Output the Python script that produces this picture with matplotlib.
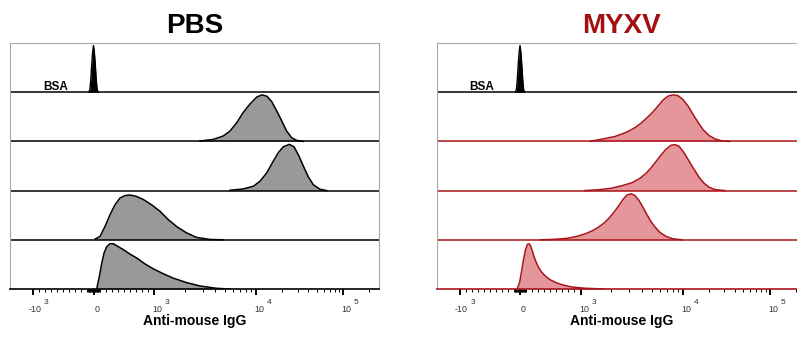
import numpy as np
import matplotlib
matplotlib.use("Agg")
import matplotlib.pyplot as plt
from matplotlib.ticker import FixedLocator, NullFormatter

plt.rcParams["font.family"] = ["Liberation Sans", "DejaVu Sans"]

# ── Data: x = Anti-mouse IgG fluorescence, y = fraction of mode ─────
bsa_x = [-80, -60, -45, -30, -15, 0, 15, 30, 45, 60, 80]
bsa_y = [0, 0.05, 0.25, 0.55, 0.80, 0.95, 0.80, 0.55, 0.25, 0.05, 0]

pbs_1_x = [2825, 3811, 4775, 5559, 6474, 7503, 8730, 10190, 11640, 13280, 15150,
           17300, 19730, 22500, 25700, 29380, 34990]
pbs_1_y = [0.007, 0.041, 0.11, 0.21, 0.38, 0.59, 0.76, 0.90, 0.945, 0.92, 0.81,
           0.62, 0.42, 0.21, 0.075, 0.02, 0]

pbs_2_x = [5559, 7503, 9420, 11120, 13280, 15820, 18040, 20600, 24150, 27360, 30650,
           34990, 39910, 45600, 54450, 65020]
pbs_2_y = [0.007, 0.034, 0.088, 0.19, 0.36, 0.60, 0.77, 0.89, 0.94, 0.89, 0.73,
           0.50, 0.28, 0.12, 0.027, 0]

pbs_3_x = [25, 107, 190, 273, 355, 438, 521, 603, 714, 823, 962, 1145, 1381, 1667,
           2089, 2616, 3540, 4775]
pbs_3_y = [0.014, 0.068, 0.27, 0.51, 0.71, 0.85, 0.90, 0.91, 0.88, 0.82, 0.71, 0.58,
           0.41, 0.27, 0.14, 0.048, 0.007, 0]

pbs_4_x = [53, 96, 136, 174, 218, 273, 327, 383, 493, 603, 714, 851, 988, 1233, 1545,
           2089, 2825, 4122, 5559]
pbs_4_y = [0, 0.25, 0.52, 0.73, 0.86, 0.92, 0.92, 0.88, 0.80, 0.71, 0.63, 0.51, 0.41,
           0.31, 0.22, 0.13, 0.061, 0.014, 0]

myxv_1_x = [1239, 1662, 2179, 2858, 3422, 3917, 4487, 5138, 5754, 6443, 7210, 8072,
            9036, 10130, 11570, 13210, 15070, 17220, 20180, 23660, 28460, 35160]
myxv_1_y = [0, 0.05, 0.10, 0.19, 0.28, 0.37, 0.48, 0.60, 0.72, 0.84, 0.92, 0.945,
            0.93, 0.85, 0.72, 0.55, 0.39, 0.24, 0.12, 0.05, 0.01, 0]

myxv_2_x = [1107, 1553, 2036, 2551, 3199, 3828, 4385, 4909, 5496, 6152, 6886, 7709,
            8433, 9247, 10130, 11270, 12540, 13940, 15500, 17680, 20180, 23660, 30820]
myxv_2_y = [0, 0.02, 0.05, 0.10, 0.16, 0.25, 0.35, 0.46, 0.59, 0.72, 0.84, 0.92,
            0.935, 0.90, 0.80, 0.67, 0.53, 0.40, 0.27, 0.15, 0.07, 0.02, 0]

myxv_3_x = [331, 579, 777, 942, 1107, 1296, 1485, 1700, 1903, 2130, 2384, 2610, 2858,
            3129, 3422, 3748, 4100, 4487, 4909, 5375, 6012, 6886, 8072, 9886]
myxv_3_y = [0, 0.01, 0.03, 0.07, 0.12, 0.18, 0.25, 0.34, 0.44, 0.56, 0.70, 0.82, 0.91,
            0.935, 0.90, 0.80, 0.66, 0.51, 0.37, 0.26, 0.15, 0.07, 0.02, 0]

myxv_4_x = [-50, -8, 25, 58, 91, 124, 149, 174, 207, 248, 298, 347, 413, 496, 595, 711,
            860, 1107, 1742]
myxv_4_y = [0, 0.12, 0.35, 0.60, 0.80, 0.91, 0.92, 0.88, 0.76, 0.60, 0.46, 0.36, 0.27,
            0.19, 0.13, 0.08, 0.04, 0.015, 0]

major_ticks = [-1000, 0, 1000, 10000, 100000]
major_base = ["-10", "0", "10", "10", "10"]
major_exp = ["3", "", "3", "4", "5"]

# ── Palette ──────────────────────────────────────────────────────────
BLACK = "#000000"
GREY_FILL = "#999999"
FRAME = "#a8a8a8"
RED = "#a8141a"
RED_FILL = "#e4969a"
RED_TITLE = "#a50f0f"
TICK_TXT = "#333333"

W, H, DPI = 797, 343, 100

# ── biexponential-like display scale (pixel anchors) ──
U_ANCH = [-3, -1, 0, 1, 2, 3, 4]
P_ANCH = [-88, 33, 93.5, 154, 256, 343, 430]


def to_u(v):
    v = np.asarray(v, dtype=float)
    a = np.abs(v)
    return np.where(a <= 1000, v / 1000,
                    np.sign(v) * (1 + np.log10(np.maximum(a, 1e-9) / 1000)))


def from_u(u):
    u = np.asarray(u, dtype=float)
    return np.where(np.abs(u) <= 1, u * 1000,
                    np.sign(u) * 1000 * 10 ** (np.abs(u) - 1))


def forward(v):
    return np.interp(to_u(v), U_ANCH, P_ANCH)


def inverse(p):
    return from_u(np.interp(p, P_ANCH, U_ANCH))


XMIN, XMAX = -2400, 262144
minor_ticks = ([-k * 100 for k in range(1, 10)] + [-k * 10 for k in range(1, 10)]
               + [k * 10 for k in range(1, 10)] + [k * 100 for k in range(1, 10)]
               + [k * 1000 for k in range(2, 10)] + [k * 10000 for k in range(2, 10)]
               + [200000])


def panel(fig, left_px, title, title_color, rows, line, fill):
    span = float(forward(XMAX) - forward(XMIN))
    ax = fig.add_axes([left_px / W, 54 / H, span / W, 246 / H])
    ax.set_xscale("function", functions=(forward, inverse))
    ax.set_xlim(XMIN, XMAX)
    ax.set_ylim(0, 5)

    # BSA control in top row
    base = 4
    ax.fill_between(bsa_x, base, base + np.array(bsa_y), color=BLACK, lw=0)
    ax.plot(bsa_x, base + np.array(bsa_y), color=BLACK, lw=1.0)
    ax.axhline(base, color=BLACK, lw=1.1)
    ax.text(0.09, 0.809, "BSA", transform=ax.transAxes, fontsize=8.5,
            fontweight="bold", ha="left", va="baseline")

    for i, (xs, ys) in enumerate(rows):
        base = 3 - i
        ys = base + np.array(ys)
        ax.fill_between(xs, base, ys, color=fill, lw=0)
        ax.plot(xs, ys, color=line, lw=1.1, solid_joinstyle="round")
        if base > 0:
            ax.axhline(base, color=line, lw=1.1)

    for s in ("top", "left", "right"):
        ax.spines[s].set_color(FRAME)
        ax.spines[s].set_linewidth(0.8)
    ax.spines["bottom"].set_color(line)
    ax.spines["bottom"].set_linewidth(1.2)

    ax.set_yticks([])
    ax.xaxis.set_major_locator(FixedLocator(major_ticks))
    ax.xaxis.set_minor_locator(FixedLocator(minor_ticks))
    ax.xaxis.set_major_formatter(NullFormatter())
    ax.xaxis.set_minor_formatter(NullFormatter())
    ax.tick_params(axis="x", which="major", direction="out", length=4.3,
                   width=1.4, color=BLACK)
    ax.tick_params(axis="x", which="minor", direction="out", length=2.5,
                   width=0.7, color=BLACK)

    # tick labels drawn as base + raised exponent
    tr = ax.get_xaxis_transform()
    for v, b, e in zip(major_ticks, major_base, major_exp):
        if e:
            ax.annotate(b, xy=(v, 0), xycoords=tr, xytext=(6.0, -16.8),
                        textcoords="offset points", ha="right", va="baseline",
                        fontsize=6.4, color=TICK_TXT)
            ax.annotate(e, xy=(v, 0), xycoords=tr, xytext=(8.0, -10.6),
                        textcoords="offset points", ha="left", va="baseline",
                        fontsize=6.0, color=TICK_TXT)
        else:
            ax.annotate(b, xy=(v, 0), xycoords=tr, xytext=(2.6, -16.8),
                        textcoords="offset points", ha="center", va="baseline",
                        fontsize=6.4, color=TICK_TXT)

    ax.text(0.5, -(325 - 289) / 246, "Anti-mouse IgG", transform=ax.transAxes,
            ha="center", va="baseline", fontsize=10, fontweight="bold")
    ax.text(0.5, (289 - 33) / 246, title, transform=ax.transAxes,
            ha="center", va="baseline", fontsize=20, fontweight="bold",
            color=title_color)
    return ax


fig = plt.figure(figsize=(W / DPI, H / DPI), dpi=DPI, facecolor="white")

panel(fig, 10, "PBS", BLACK,
      [(pbs_1_x, pbs_1_y), (pbs_2_x, pbs_2_y), (pbs_3_x, pbs_3_y), (pbs_4_x, pbs_4_y)],
      BLACK, GREY_FILL)
panel(fig, 436.5, "MYXV", RED_TITLE,
      [(myxv_1_x, myxv_1_y), (myxv_2_x, myxv_2_y), (myxv_3_x, myxv_3_y), (myxv_4_x, myxv_4_y)],
      RED, RED_FILL)

fig.savefig("out.png", dpi=DPI, facecolor="white")
